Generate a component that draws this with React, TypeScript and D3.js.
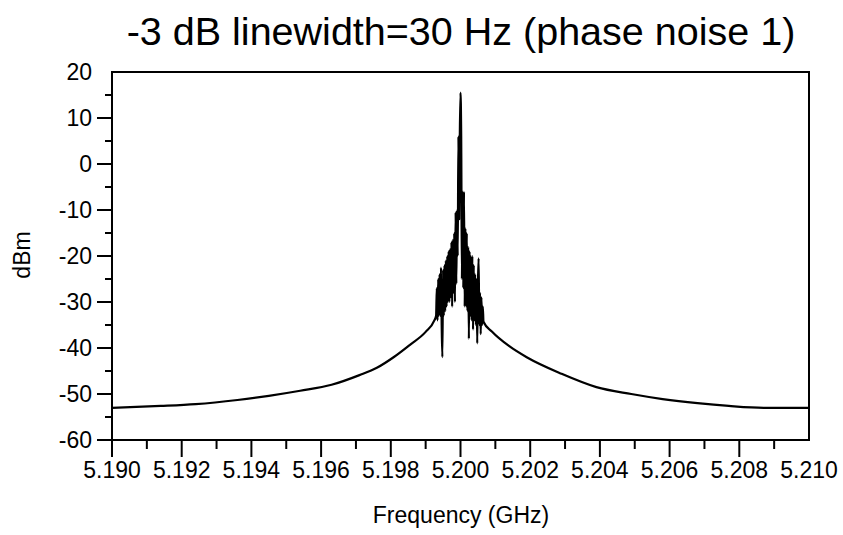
import * as d3 from 'd3'
import { useMemo } from 'react'

const title = '-3 dB linewidth=30 Hz (phase noise 1)'
const xLabel = 'Frequency (GHz)'
const yLabel = 'dBm'

// axis ticks
const xLabeled = [5.19, 5.192, 5.194, 5.196, 5.198, 5.2, 5.202, 5.204, 5.206, 5.208, 5.21]
const xMajor = [5.19, 5.192, 5.194, 5.196, 5.198, 5.2, 5.202, 5.204, 5.206, 5.208]
const xMinor = [5.191, 5.193, 5.195, 5.197, 5.199, 5.201, 5.203, 5.205, 5.207, 5.209]
const yLabeled = [20, 10, 0, -10, -20, -30, -40, -50, -60]
const yMajor = [10, 0, -10, -20, -30, -40, -50, -60]
const yMinor = [15, 5, -5, -15, -25, -35, -45, -55]

// smooth skirt left of the carrier
const leftFreq = [5.19, 5.1914, 5.1924, 5.1936, 5.1945, 5.1954, 5.1963, 5.1971, 5.1976, 5.1981, 5.19855, 5.199, 5.19925]
const leftDbm = [-53.0, -52.6, -52.2, -51.3, -50.4, -49.3, -48.0, -45.9, -44.3, -41.9, -39.3, -36.5, -34.0]

// noisy close-in region around the carrier
const coreFreq = [
  5.1993, 5.19932, 5.19934, 5.19936, 5.19938, 5.1994, 5.19942, 5.19944, 5.19946, 5.19948,
  5.1995, 5.19952, 5.19954, 5.19956, 5.19958, 5.1996, 5.19962, 5.19964, 5.19966, 5.19968,
  5.1997, 5.19972, 5.19974, 5.19976, 5.19978, 5.1998, 5.19982, 5.19984, 5.19986, 5.19988,
  5.1999, 5.19992, 5.19994, 5.19996, 5.19998, 5.2, 5.20002, 5.20004, 5.20006, 5.20008,
  5.2001, 5.20012, 5.20014, 5.20016, 5.20018, 5.2002, 5.20022, 5.20024, 5.20026, 5.20028,
  5.2003, 5.20032, 5.20034, 5.20036, 5.20038, 5.2004, 5.20042, 5.20044, 5.20046, 5.20048,
  5.2005, 5.20052, 5.20054, 5.20056, 5.20058, 5.2006, 5.20062, 5.20064, 5.20066,
]
const coreDbm = [
  -33, -27, -34, -25, -33, -24, -33, -22.5, -35, -42,
  -23, -33, -22, -32, -21, -31, -20, -30, -19, -30,
  -18.5, -29, -17, -31, -16.5, -28, -15, -30, -10.5, -26,
  -10, -20, 6, -12, 6, 15.5, 6, -25, -6, -27,
  -6, -31, -14, -31, -15, -32, -18, -38, -19, -33,
  -20, -34, -20, -36, -22, -34, -24, -35, -25, -39,
  -26, -20.5, -35, -28, -37, -29, -35, -31, -34.3,
]

// smooth skirt right of the carrier
const rightFreq = [5.2009, 5.2014, 5.2019, 5.2029, 5.2039, 5.2049, 5.2058, 5.2068, 5.2077, 5.2087, 5.21]
const rightDbm = [-36.4, -39.6, -42.0, -45.6, -48.5, -50.0, -51.1, -52.0, -52.6, -53.0, -53.0]

const W = 843
const H = 535
const left = 112
const right = 809
const top = 72
const bottom = 440
const font = '"Liberation Sans", Arial, sans-serif'

export default function App() {
  const x = d3.scaleLinear().domain([5.19, 5.21]).range([left, right])
  const y = d3.scaleLinear().domain([-60, 20]).range([bottom, top])

  const path = useMemo(() => {
    const pts: [number, number][] = []
    leftFreq.forEach((f, i) => pts.push([f, leftDbm[i]]))
    coreFreq.forEach((f, i) => pts.push([f, coreDbm[i]]))
    rightFreq.forEach((f, i) => pts.push([f, rightDbm[i]]))
    const line = d3
      .line<[number, number]>()
      .x((d) => x(d[0]))
      .y((d) => y(d[1]))
      .curve(d3.curveMonotoneX)
    return line(pts) ?? ''
  }, [])

  const fmt = d3.format('.3f')

  return (
    <svg width={W} height={H} style={{ position: 'absolute', left: 0, top: 0, background: '#fff' }}>
      <rect width={W} height={H} fill="#fff" />
      <defs>
        <clipPath id="plot">
          <rect x={left} y={top} width={right - left} height={bottom - top} />
        </clipPath>
      </defs>
      <text x={461} y={45} textAnchor="middle" fontFamily={font} fontSize={39.5} fill="#000">
        {title}
      </text>

      <path d={path} fill="none" stroke="#000" strokeWidth={2.2} strokeLinejoin="round" clipPath="url(#plot)" />

      <rect x={left} y={top} width={right - left} height={bottom - top} fill="none" stroke="#000" strokeWidth={2} />

      {xMajor.map((v) => (
        <line key={`xM${v}`} x1={x(v)} x2={x(v)} y1={bottom} y2={bottom + 17} stroke="#000" strokeWidth={2} />
      ))}
      {xMinor.map((v) => (
        <line key={`xm${v}`} x1={x(v)} x2={x(v)} y1={bottom} y2={bottom + 9} stroke="#000" strokeWidth={2} />
      ))}
      {xLabeled.map((v) => (
        <text key={`xl${v}`} x={x(v)} y={478} textAnchor="middle" fontFamily={font} fontSize={23} fill="#000">
          {fmt(v)}
        </text>
      ))}

      {yMajor.map((v) => (
        <line key={`yM${v}`} x1={left - 15} x2={left} y1={y(v)} y2={y(v)} stroke="#000" strokeWidth={2} />
      ))}
      {yMinor.map((v) => (
        <line key={`ym${v}`} x1={left - 7} x2={left} y1={y(v)} y2={y(v)} stroke="#000" strokeWidth={2} />
      ))}
      {yLabeled.map((v) => (
        <text key={`yl${v}`} x={92} y={y(v)} dy="0.35em" textAnchor="end" fontFamily={font} fontSize={23} fill="#000">
          {v}
        </text>
      ))}

      <text x={461} y={523} textAnchor="middle" fontFamily={font} fontSize={23} fill="#000">
        {xLabel}
      </text>
      <text transform="translate(30,255) rotate(-90)" textAnchor="middle" fontFamily={font} fontSize={23} fill="#000">
        {yLabel}
      </text>
    </svg>
  )
}
